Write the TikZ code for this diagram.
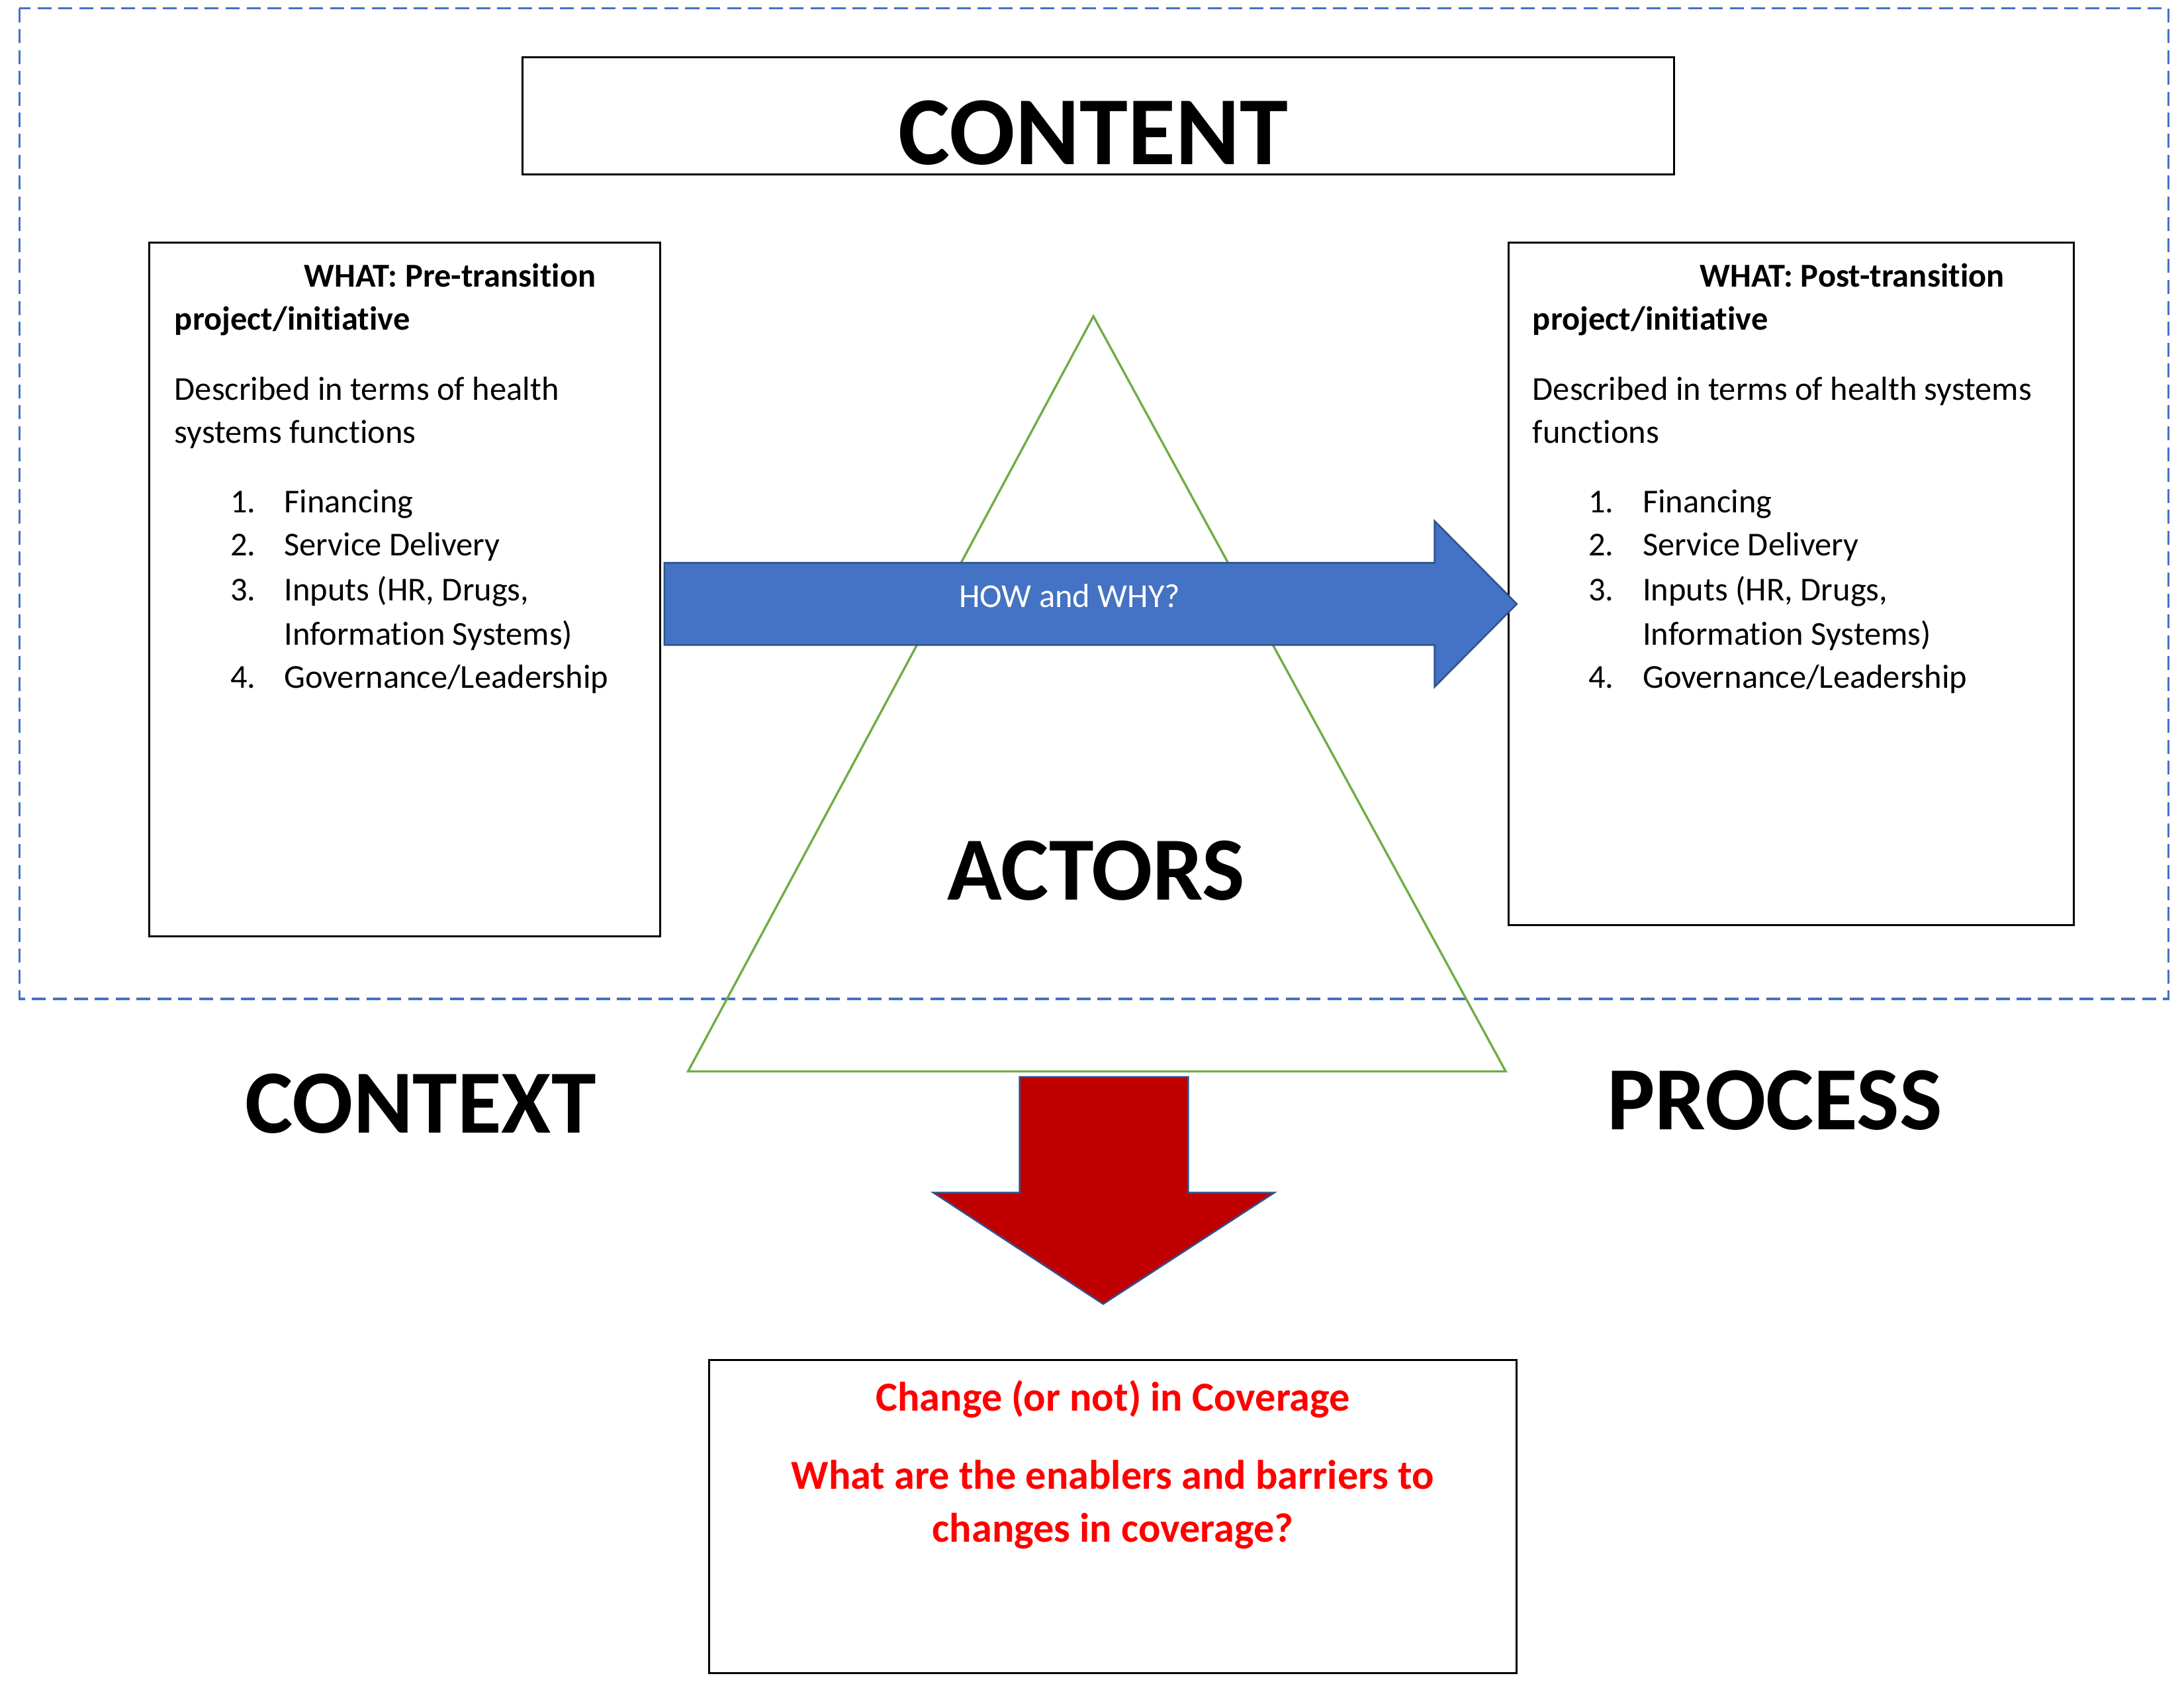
\documentclass[tikz,border=0pt]{standalone}
\usepackage{fontspec}
\setmainfont{Carlito}[Ligatures={NoCommon}]
\definecolor{dashblue}{HTML}{4472C4}
\definecolor{arrowblue}{HTML}{4472C4}
\definecolor{arrowedge}{HTML}{2F528F}
\definecolor{trigreen}{HTML}{70AD47}
\definecolor{darkred}{HTML}{C00000}
\definecolor{brightred}{HTML}{FF0000}
\begin{document}
\begin{tikzpicture}[x=0.5pt,y=-0.5pt,
  boxnode/.style={draw=black, line width=0.7pt, inner sep=0pt, fill=white},
  bodytext/.style={anchor=base west, inner sep=0pt, font=\fontsize{12}{15}\selectfont},
  headtext/.style={anchor=base west, inner sep=0pt, font=\fontsize{12}{15}\selectfont\bfseries},
  bigword/.style={anchor=base, inner sep=0pt, font=\fontsize{32.4}{38}\selectfont\bfseries},
  redtext/.style={anchor=base, inner sep=0pt, text=brightred, font=\fontsize{14.8}{18}\selectfont\bfseries},
  blockarrow/.style={draw=arrowedge, line width=0.6pt, line join=miter}]
\useasboundingbox (0,0) rectangle (1568,1213);
\fill[white] (0,0) rectangle (1568,1213);

% dashed frame
\draw[dashblue, line width=0.75pt, dash pattern=on 5pt off 2.5pt] (14,6) rectangle (1557,717);

% CONTENT box
\node[boxnode, minimum width=413.5pt, minimum height=42pt] (contentbox) at (788.5,83) {};
\node[bigword, font=\fontsize{35}{40}\selectfont\bfseries] (contentlbl) at (785,118) {CONTENT};

% left box
\node[boxnode, minimum width=183.5pt, minimum height=249pt] (prebox) at (290.5,423) {};
\node[headtext] (prewhat) at (218,206) {WHAT: Pre-transition};
\node[headtext] (preproj) at (125,237) {project/initiative};
\node[bodytext] (predesca) at (125,287) {Described in terms of health};
\node[bodytext] (predescb) at (125,318) {systems functions};
\node[bodytext] (prenuma) at (165,368) {1.};
\node[bodytext] (preitema) at (203.6,368) {Financing};
\node[bodytext] (prenumb) at (165,399) {2.};
\node[bodytext] (preitemb) at (203.6,399) {Service Delivery};
\node[bodytext] (prenumc) at (165,431) {3.};
\node[bodytext] (preitemc) at (203.6,431) {Inputs (HR, Drugs,};
\node[bodytext] (preitemcc) at (203.6,463) {Information Systems)};
\node[bodytext] (prenumd) at (165,494) {4.};
\node[bodytext] (preitemd) at (203.6,494) {Governance/Leadership};

% right box
\node[boxnode, minimum width=203pt, minimum height=245pt] (postbox) at (1286,419) {};
\node[headtext] (postwhat) at (1220,206) {WHAT: Post-transition};
\node[headtext] (postproj) at (1100,237) {project/initiative};
\node[bodytext] (postdesca) at (1100,287) {Described in terms of health systems};
\node[bodytext] (postdescb) at (1100,318) {functions};
\node[bodytext] (postnuma) at (1140,368) {1.};
\node[bodytext] (postitema) at (1179,368) {Financing};
\node[bodytext] (postnumb) at (1140,399) {2.};
\node[bodytext] (postitemb) at (1179,399) {Service Delivery};
\node[bodytext] (postnumc) at (1140,431) {3.};
\node[bodytext] (postitemc) at (1179,431) {Inputs (HR, Drugs,};
\node[bodytext] (postitemcc) at (1179,463) {Information Systems)};
\node[bodytext] (postnumd) at (1140,494) {4.};
\node[bodytext] (postitemd) at (1179,494) {Governance/Leadership};

% triangle
\coordinate (apex) at (785,227);
\coordinate (baseL) at (494,769);
\coordinate (baseR) at (1081,769);
\draw[trigreen, line width=0.8pt, line join=miter] (apex) -- (baseR) -- (baseL) -- cycle;

% blue arrow
\draw[blockarrow, fill=arrowblue] (477,404) -- (1030,404) -- (1030,374) -- (1089,433.5) -- (1030,493) -- (1030,463) -- (477,463) -- cycle;
\node[anchor=base, inner sep=0pt, text=white, font=\fontsize{12}{15}\selectfont] (howwhy) at (768,436) {HOW and WHY?};

% big labels
\node[bigword] (actorslbl) at (787,646) {ACTORS};
\node[bigword] (contextlbl) at (302,813) {CONTEXT};
\node[bigword] (processlbl) at (1274,811) {PROCESS};

% red arrow
\draw[blockarrow, fill=darkred] (732,773) -- (853,773) -- (853,856) -- (915,856) -- (792,936) -- (670,856) -- (732,856) -- cycle;

% bottom box
\node[boxnode, minimum width=290pt, minimum height=112.5pt] (coveragebox) at (799,1088.5) {};
\node[redtext] (covtitle) at (799,1013) {Change (or not) in Coverage};
\node[redtext] (covqa) at (799,1069) {What are the enablers and barriers to};
\node[redtext] (covqb) at (799,1107) {changes in coverage?};
\end{tikzpicture}
\end{document}
